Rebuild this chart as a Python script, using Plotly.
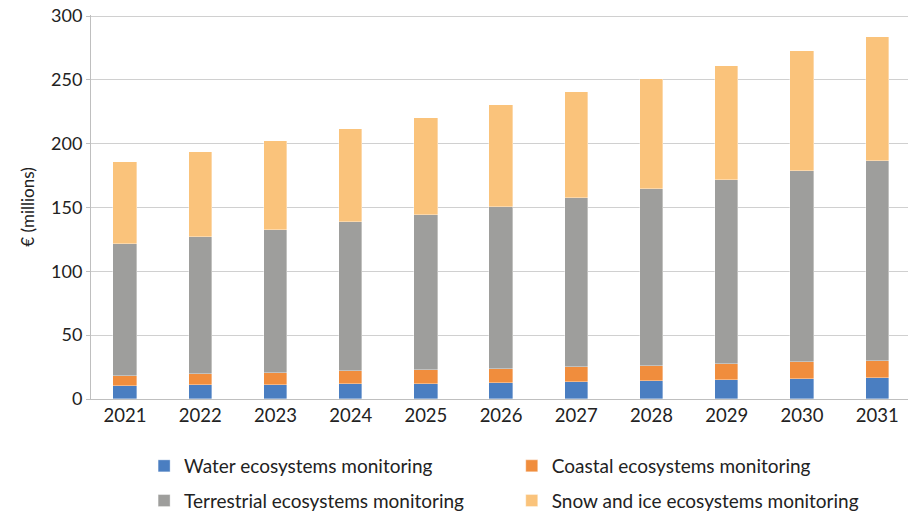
import plotly.graph_objects as go

years = ["2021", "2022", "2023", "2024", "2025", "2026", "2027", "2028", "2029", "2030", "2031"]
water = [9.9, 10.7, 11.2, 11.7, 12.0, 12.8, 13.6, 14.4, 15.2, 15.7, 16.7]
coastal = [8.4, 8.6, 9.2, 10.2, 10.7, 10.8, 11.2, 11.7, 12.2, 13.0, 13.3]
terrestrial = [102.9, 107.3, 112.2, 116.5, 121.7, 126.9, 132.4, 138.4, 143.9, 150.2, 156.2]
snow_ice = [64.2, 66.9, 69.5, 73.1, 75.6, 79.5, 83.0, 86.1, 89.8, 93.4, 97.6]
y_ticks = [0, 50, 100, 150, 200, 250, 300]

series = [
    ("Water ecosystems monitoring", water, "#4A7EC1", "legend"),
    ("Coastal ecosystems monitoring", coastal, "#F08D3D", "legend2"),
    ("Terrestrial ecosystems monitoring", terrestrial, "#9E9E9C", "legend"),
    ("Snow and ice ecosystems monitoring", snow_ice, "#FAC37B", "legend2"),
]

FONT = "Lato"
fig = go.Figure()
for name, vals, color, leg in series:
    fig.add_trace(go.Bar(
        x=years, y=vals, name=name, legend=leg, legendgroup=name,
        marker=dict(color=color, line=dict(width=0.6, color="rgba(255,255,255,0.6)")),
        width=0.31,
    ))

legend_common = dict(
    orientation="v", yanchor="top", xanchor="left",
    font=dict(size=19, family=FONT, color="#222222"),
    traceorder="grouped", tracegroupgap=7, itemwidth=30,
    bgcolor="rgba(0,0,0,0)",
)

fig.update_layout(
    barmode="stack",
    width=908, height=515,
    margin=dict(l=91, r=0, t=15, b=116, autoexpand=False),
    paper_bgcolor="white", plot_bgcolor="white",
    font=dict(family=FONT, size=18, color="#222222"),
    xaxis=dict(
        type="category", range=[-0.452, 10.41],
        showgrid=False, showline=True, linecolor="#BFBFBF", linewidth=1,
        ticks="", tickfont=dict(size=18.5, family=FONT),
    ),
    yaxis=dict(
        range=[0, 300.8], tickvals=y_ticks,
        showgrid=True, gridcolor="#D0D0D0", gridwidth=1,
        showline=True, linecolor="#BFBFBF", linewidth=1,
        ticks="outside", ticklen=4, tickcolor="#BFBFBF",
        tickfont=dict(size=18, family=FONT),
        ticklabeloverflow="allow",
        title=dict(text="€ (millions)", font=dict(size=17, family=FONT), standoff=12),
        zeroline=False,
    ),
    legend=dict(x=0.065, y=-0.125, **legend_common),
    legend2=dict(x=0.515, y=-0.125, **legend_common),
    bargap=0,
)

fig.write_html(
    "out.html",
    config={"displayModeBar": False},
    post_script="document.body.style.margin='0';document.body.style.overflow='hidden';",
)
